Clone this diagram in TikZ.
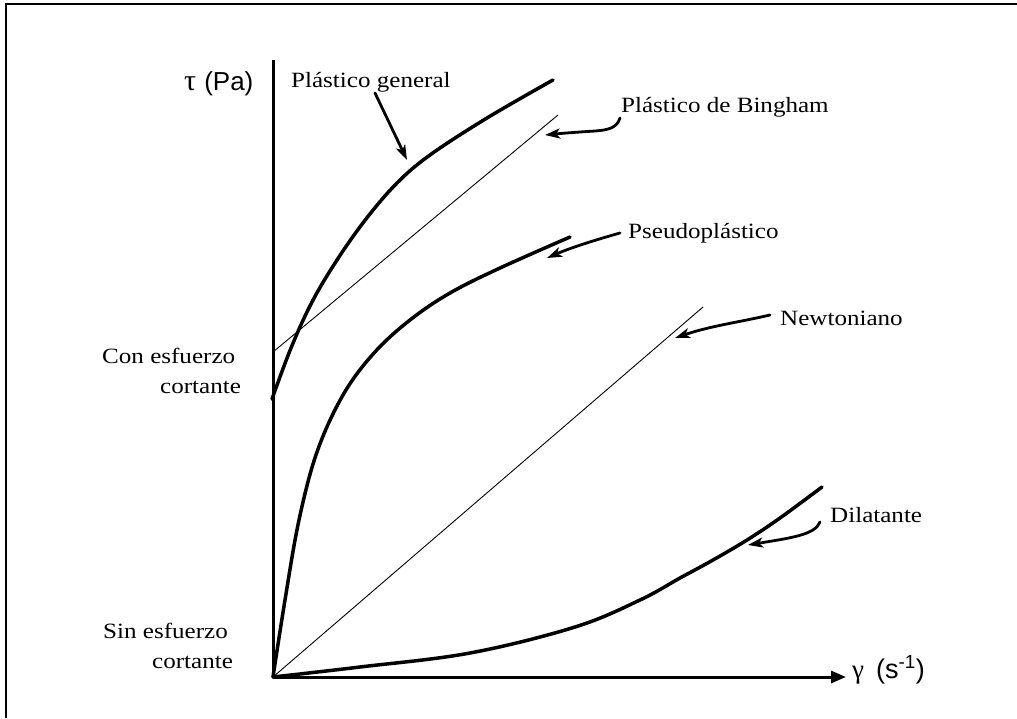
\documentclass[tikz,border=0pt]{standalone}
\usepackage{fontspec}
\setmainfont{Liberation Serif}
\newfontfamily\labfont[FakeStretch=1.15]{Liberation Serif}
\newfontfamily\axsans{Liberation Sans}
\newfontfamily\axserif{Liberation Serif}
\usetikzlibrary{arrows.meta}
\begin{document}
\begin{tikzpicture}[x=1pt,y=-1pt,
  lab/.style={font=\labfont\fontsize{21.8}{23}\selectfont, inner sep=0pt, anchor=base west},
  axlab/.style={font=\fontsize{26}{28}\selectfont, inner sep=0pt, anchor=base west},
  axisline/.style={line width=3pt},
  thickcurve/.style={line width=3.5pt, line cap=round, line join=round},
  thinline/.style={line width=0.9pt},
  pointer/.style={line width=2.8pt, line cap=round, -{Stealth[length=15pt,width=10pt,inset=4pt]}},
  frameline/.style={line width=1.5pt}]
\useasboundingbox (0,0) rectangle (1017,718);
% frame
\draw[frameline] (6,718) -- (6,4) -- (1017,4);
% axes
\coordinate (O) at (273,677);
\coordinate (ytop) at (273,60);
\coordinate (xend) at (846,677);
\draw[axisline] (O) -- (ytop);
\draw[axisline, -{Triangle[length=15pt,width=12pt]}] (O) -- (xend);
% axis labels
\node[axlab] (tau) at (184,90) {{\axserif\fontsize{30}{30}\selectfont τ}\hspace{8pt}\axsans(Pa)};
\node[axlab] (gam) at (852,678) {{\axserif\fontsize{27}{28}\selectfont γ}\hspace{12pt}\axsans\fontsize{27}{28}\selectfont(s\textsuperscript{-1})};
% Bingham line (thin)
\coordinate (b0) at (273,352);
\coordinate (b1) at (558,115);
\draw[thinline] (b0) -- (b1);
% Newtonian line (thin)
\coordinate (n1) at (703,307);
\draw[thinline] (O) -- (n1);
% general plastic curve
\draw[thickcurve] plot[smooth,tension=0.6] coordinates {(272,399) (291,348) (312,302) (337,260) (366,219) (397,183) (430,155) (487,118) (553,80)};
% pseudoplastic
\draw[thickcurve] plot[smooth,tension=0.6] coordinates {(273,677) (285,600) (299,520) (317,452) (343,395) (374,353) (410,320) (450,293) (500,268) (570,237)};
% dilatant
\draw[thickcurve] plot[smooth,tension=0.6] coordinates {(273,677) (360,667) (470,653) (575,627) (640,600) (680,578) (713,560) (747,540) (780,518) (822,487)};
% labels
\node[lab] (pg) at (291,87) {Plástico general};
\node[lab] (pb) at (621,112) {Plástico de Bingham};
\node[lab] (ps) at (628,238) {Pseudoplástico};
\node[lab] (nw) at (780,325) {Newtoniano};
\node[lab] (dl) at (830,522) {Dilatante};
\node[lab] (ce1) at (102,363) {Con esfuerzo};
\node[lab] (ce2) at (160,393) {cortante};
\node[lab] (se1) at (103,638) {Sin esfuerzo};
\node[lab] (se2) at (152,668) {cortante};
% pointers
\coordinate (pgt) at (375,93);  \coordinate (pgh) at (407,160);
\coordinate (pbt) at (620,118); \coordinate (pbh) at (545,135);
\coordinate (pst) at (620,233); \coordinate (psh) at (547,258);
\coordinate (nwt) at (770,315); \coordinate (nwh) at (675,338);
\coordinate (dlt) at (820,522); \coordinate (dlh) at (748,545);
\draw[pointer] (pgt) -- (pgh);
\draw[pointer] (pbt) .. controls (617,128) and (608,130) .. (595,131) .. controls (580,132) and (565,133) .. (pbh);
\draw[pointer] (pst) .. controls (595,240) and (570,248) .. (psh);
\draw[pointer] (nwt) .. controls (740,322) and (710,326) .. (nwh);
\draw[pointer] (dlt) .. controls (815,535) and (790,538) .. (dlh);
\end{tikzpicture}
\end{document}
